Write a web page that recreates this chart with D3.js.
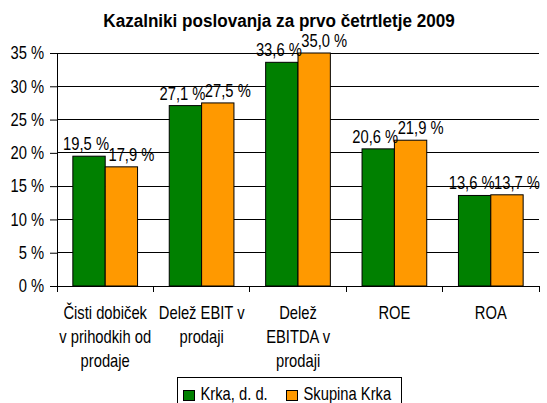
<!DOCTYPE html>
<html>
<head>
<meta charset="utf-8">
<script src="https://cdn.jsdelivr.net/npm/d3@7"></script>
<style>
  body { margin: 0; background: #fff; }
  svg text { font-family: "Liberation Sans", Arial, sans-serif; fill: #000; }
  /* squeeze glyphs to look like Arial Narrow */
  svg text.narrow { transform-box: fill-box; transform: scaleX(0.82); transform-origin: center; }
  svg text.narrow.endA { transform-origin: right; }
  svg text.narrow.startA { transform-origin: left; }
  svg text.title { transform-box: fill-box; transform: scaleX(0.9); transform-origin: center; }
</style>
</head>
<body>
<svg id="chart" width="547" height="403"></svg>
<script>
var categories = [
    ["Čisti dobiček", "v prihodkih od", "prodaje"],
    ["Delež EBIT v", "prodaji"],
    ["Delež", "EBITDA v", "prodaji"],
    ["ROE"],
    ["ROA"]
];
var seriesNames = ["Krka, d. d.", "Skupina Krka"];
var krka = [19.5, 27.1, 33.6, 20.6, 13.6];
var skupina = [17.9, 27.5, 35.0, 21.9, 13.7];
var yTicks = [0, 5, 10, 15, 20, 25, 30, 35];
var colors = ["#008000", "#ff9900"];

var svg = d3.select("#chart");
var mLeft = 57, mRight = 539, mTop = 53, mBottom = 286;

var x = d3.scaleBand().domain(d3.range(categories.length)).range([mLeft, mRight]);
var xs = d3.scaleBand().domain([0, 1]).range([0, x.bandwidth()]).paddingOuter(0.49).paddingInner(0);
var y = d3.scaleLinear().domain([0, 35]).range([mBottom, mTop]);

// title
svg.append("text")
    .attr("class", "title")
    .attr("x", 279).attr("y", 27)
    .attr("text-anchor", "middle")
    .attr("font-size", 19).attr("font-weight", "bold")
    .text("Kazalniki poslovanja za prvo četrtletje 2009");

// gridlines
svg.append("g").selectAll("line")
    .data(yTicks.filter(d => d > 0))
    .enter().append("line")
    .attr("x1", mLeft).attr("x2", mRight)
    .attr("y1", d => y(d)).attr("y2", d => y(d))
    .attr("stroke", "#000").attr("stroke-width", 1)
    .attr("shape-rendering", "crispEdges");

// y axis
var yAxis = svg.append("g")
    .attr("transform", `translate(${mLeft},0)`)
    .call(d3.axisLeft(y).tickValues(yTicks).tickSize(7).tickPadding(6).tickFormat(d => d + " %"));
yAxis.select(".domain").attr("stroke", "#000");
yAxis.selectAll("line").attr("stroke", "#000");
yAxis.selectAll("text")
    .attr("class", "narrow endA")
    .attr("font-size", 18).attr("font-family", null);

// x axis line + ticks at category borders
svg.append("line")
    .attr("x1", mLeft).attr("x2", mRight)
    .attr("y1", mBottom).attr("y2", mBottom)
    .attr("stroke", "#000").attr("shape-rendering", "crispEdges");
svg.append("g").selectAll("line")
    .data(d3.range(categories.length + 1))
    .enter().append("line")
    .attr("x1", d => mLeft + d * x.bandwidth()).attr("x2", d => mLeft + d * x.bandwidth())
    .attr("y1", mBottom).attr("y2", mBottom + 6)
    .attr("stroke", "#000").attr("shape-rendering", "crispEdges");

// bars
var groups = svg.append("g").selectAll("g")
    .data(categories.map((c, i) => [krka[i], skupina[i]]))
    .enter().append("g")
    .attr("transform", (d, i) => `translate(${x(i)},0)`);

groups.selectAll("rect")
    .data(d => d)
    .enter().append("rect")
    .attr("x", (d, j) => xs(j))
    .attr("width", xs.bandwidth())
    .attr("y", d => y(d))
    .attr("height", d => y(0) - y(d))
    .attr("fill", (d, j) => colors[j])
    .attr("stroke", "#000").attr("stroke-width", 1);

// value labels (nudged apart like Excel does)
groups.selectAll("text.val")
    .data(d => d)
    .enter().append("text")
    .attr("class", "val narrow")
    .attr("x", (d, j) => xs(j) + xs.bandwidth() / 2 + (j == 0 ? -3 : 10))
    .attr("y", d => y(d) - 6)
    .attr("text-anchor", "middle")
    .attr("font-size", 18)
    .text(d => d3.format(".1f")(d).replace(".", ",") + " %");

// category labels
svg.append("g").selectAll("text")
    .data(categories)
    .enter().append("text")
    .attr("class", "narrow")
    .attr("x", (d, i) => x(i) + x.bandwidth() / 2)
    .attr("y", 319)
    .attr("text-anchor", "middle")
    .attr("font-size", 18)
    .selectAll("tspan")
    .data(d => d)
    .enter().append("tspan")
    .attr("x", function () { return this.parentNode.getAttribute("x"); })
    .attr("dy", (d, i) => i == 0 ? 0 : 24)
    .text(d => d);

// legend
var legend = svg.append("g").attr("transform", "translate(177.5,377.5)");
legend.append("rect")
    .attr("width", 224).attr("height", 30)
    .attr("fill", "#fff").attr("stroke", "#000");
var lx = [6, 109];
seriesNames.forEach((name, i) => {
    legend.append("rect")
        .attr("x", lx[i]).attr("y", 13)
        .attr("width", 11).attr("height", 10)
        .attr("fill", colors[i]).attr("stroke", "#000");
    legend.append("text")
        .attr("class", "narrow startA")
        .attr("x", lx[i] + 17).attr("y", 23)
        .attr("font-size", 18)
        .text(name);
});
</script>
</body>
</html>
